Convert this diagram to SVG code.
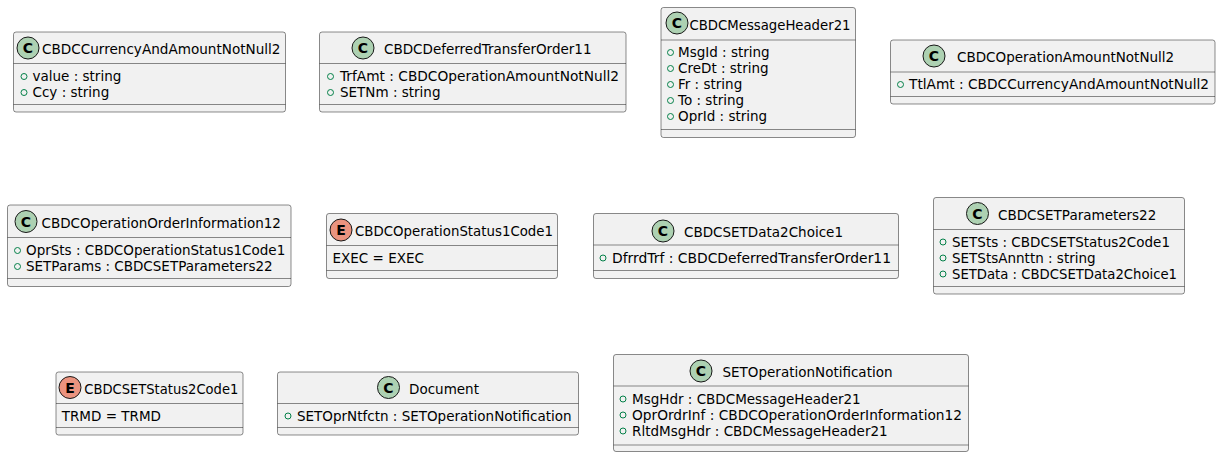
<svg xmlns="http://www.w3.org/2000/svg" width="1221" height="458" viewBox="0 0 1221 458">
<style>
.box{fill:#F1F1F1;stroke:#181818;stroke-width:0.5}
.sep{stroke:#181818;stroke-width:0.5}
.ci{fill:#ADD1B2;stroke:#181818;stroke-width:1}
.ce{fill:#EB937F;stroke:#181818;stroke-width:1}
.cl{font-family:"DejaVu Sans",sans-serif;font-size:14px;font-weight:bold;fill:#000;text-anchor:middle}
.t{font-family:"DejaVu Sans",sans-serif;font-size:13.5px;fill:#000}
.v{fill:none;stroke:#038048;stroke-width:1}
</style>
<rect width="1221" height="458" fill="#FFFFFF"/>
<g id="connectors"></g>

<g id="CBDCCurrencyAndAmountNotNull2">
<rect class="box" x="13.5" y="32" width="272" height="80" rx="2.5"/>
<line class="sep" x1="13.5" y1="63.5" x2="285.5" y2="63.5"/>
<line class="sep" x1="13.5" y1="104.5" x2="285.5" y2="104.5"/>
<circle class="ci" cx="28" cy="48" r="11"/>
<text class="cl" x="28" y="53">C</text>
<text class="t" x="42" y="54" textLength="238.5" lengthAdjust="spacingAndGlyphs">CBDCCurrencyAndAmountNotNull2</text>
<circle class="v" cx="24" cy="76.5" r="3"/>
<text class="t" x="32.5" y="81">value : string</text>
<circle class="v" cx="24" cy="92.5" r="3"/>
<text class="t" x="32.5" y="97">Ccy : string</text>
</g>

<g id="CBDCDeferredTransferOrder11">
<rect class="box" x="319.5" y="32" width="306.5" height="80" rx="2.5"/>
<line class="sep" x1="319.5" y1="63.5" x2="626" y2="63.5"/>
<line class="sep" x1="319.5" y1="104.5" x2="626" y2="104.5"/>
<circle class="ci" cx="363" cy="48" r="11"/>
<text class="cl" x="363" y="53">C</text>
<text class="t" x="384" y="54">CBDCDeferredTransferOrder11</text>
<circle class="v" cx="330.5" cy="76.5" r="3"/>
<text class="t" x="340" y="81" textLength="279" lengthAdjust="spacingAndGlyphs">TrfAmt : CBDCOperationAmountNotNull2</text>
<circle class="v" cx="330.5" cy="92.5" r="3"/>
<text class="t" x="340" y="97">SETNm : string</text>
</g>

<g id="CBDCMessageHeader21">
<rect class="box" x="661" y="7.5" width="194.5" height="130" rx="2.5"/>
<line class="sep" x1="661" y1="40" x2="855.5" y2="40"/>
<line class="sep" x1="661" y1="129.5" x2="855.5" y2="129.5"/>
<circle class="ci" cx="677" cy="23" r="11"/>
<text class="cl" x="677" y="28">C</text>
<text class="t" x="689.5" y="30" textLength="161" lengthAdjust="spacingAndGlyphs">CBDCMessageHeader21</text>
<circle class="v" cx="670.5" cy="52.5" r="3"/>
<text class="t" x="678" y="57">MsgId : string</text>
<circle class="v" cx="670.5" cy="68.5" r="3"/>
<text class="t" x="678" y="73">CreDt : string</text>
<circle class="v" cx="670.5" cy="84.5" r="3"/>
<text class="t" x="678" y="89">Fr : string</text>
<circle class="v" cx="670.5" cy="100.5" r="3"/>
<text class="t" x="678" y="105">To : string</text>
<circle class="v" cx="670.5" cy="116.5" r="3"/>
<text class="t" x="678" y="121">OprId : string</text>
</g>

<g id="CBDCOperationAmountNotNull2">
<rect class="box" x="890.5" y="40" width="324.5" height="64" rx="2.5"/>
<line class="sep" x1="890.5" y1="72" x2="1215" y2="72"/>
<line class="sep" x1="890.5" y1="96.5" x2="1215" y2="96.5"/>
<circle class="ci" cx="934" cy="56" r="11"/>
<text class="cl" x="934" y="61">C</text>
<text class="t" x="957" y="62">CBDCOperationAmountNotNull2</text>
<circle class="v" cx="900.5" cy="84.5" r="3"/>
<text class="t" x="909" y="89" textLength="300" lengthAdjust="spacingAndGlyphs">TtlAmt : CBDCCurrencyAndAmountNotNull2</text>
</g>

<g id="CBDCOperationOrderInformation12">
<rect class="box" x="7.5" y="205" width="283.5" height="81.5" rx="2.5"/>
<line class="sep" x1="7.5" y1="237.5" x2="291" y2="237.5"/>
<line class="sep" x1="7.5" y1="278.5" x2="291" y2="278.5"/>
<circle class="ci" cx="26" cy="221.5" r="11"/>
<text class="cl" x="26" y="226.5">C</text>
<text class="t" x="41.5" y="227.5">CBDCOperationOrderInformation12</text>
<circle class="v" cx="17.5" cy="250.5" r="3"/>
<text class="t" x="26" y="255">OprSts : CBDCOperationStatus1Code1</text>
<circle class="v" cx="17.5" cy="266.5" r="3"/>
<text class="t" x="26" y="271">SETParams : CBDCSETParameters22</text>
</g>

<g id="CBDCOperationStatus1Code1">
<rect class="box" x="326.5" y="213.5" width="231" height="65" rx="2.5"/>
<line class="sep" x1="326.5" y1="245.5" x2="557.5" y2="245.5"/>
<line class="sep" x1="326.5" y1="270.5" x2="557.5" y2="270.5"/>
<circle class="ce" cx="341" cy="230" r="11"/>
<text class="cl" x="341" y="235">E</text>
<text class="t" x="355" y="236" textLength="198" lengthAdjust="spacingAndGlyphs">CBDCOperationStatus1Code1</text>
<text class="t" x="332.5" y="262.5">EXEC = EXEC</text>
</g>

<g id="CBDCSETData2Choice1">
<rect class="box" x="593.5" y="213.5" width="305" height="65" rx="2.5"/>
<line class="sep" x1="593.5" y1="245" x2="898.5" y2="245"/>
<line class="sep" x1="593.5" y1="270.5" x2="898.5" y2="270.5"/>
<circle class="ci" cx="663" cy="231" r="11"/>
<text class="cl" x="663" y="236">C</text>
<text class="t" x="684" y="237">CBDCSETData2Choice1</text>
<circle class="v" cx="603" cy="258" r="3"/>
<text class="t" x="612" y="262.5" textLength="279" lengthAdjust="spacingAndGlyphs">DfrrdTrf : CBDCDeferredTransferOrder11</text>
</g>

<g id="CBDCSETParameters22">
<rect class="box" x="933.5" y="197.5" width="251" height="96.5" rx="2.5"/>
<line class="sep" x1="933.5" y1="229.5" x2="1184.5" y2="229.5"/>
<line class="sep" x1="933.5" y1="286.5" x2="1184.5" y2="286.5"/>
<circle class="ci" cx="977.5" cy="213.5" r="11"/>
<text class="cl" x="977.5" y="218.5">C</text>
<text class="t" x="998" y="219.5">CBDCSETParameters22</text>
<circle class="v" cx="943" cy="242" r="3"/>
<text class="t" x="952" y="246.5">SETSts : CBDCSETStatus2Code1</text>
<circle class="v" cx="943" cy="258" r="3"/>
<text class="t" x="952" y="262.5">SETStsAnnttn : string</text>
<circle class="v" cx="943" cy="274" r="3"/>
<text class="t" x="952" y="278.5" textLength="225" lengthAdjust="spacingAndGlyphs">SETData : CBDCSETData2Choice1</text>
</g>

<g id="CBDCSETStatus2Code1">
<rect class="box" x="56" y="372" width="187" height="63" rx="2.5"/>
<line class="sep" x1="56" y1="403.5" x2="243" y2="403.5"/>
<line class="sep" x1="56" y1="427.5" x2="243" y2="427.5"/>
<circle class="ce" cx="70" cy="387.5" r="11"/>
<text class="cl" x="70" y="392.5">E</text>
<text class="t" x="84.3" y="393.5" textLength="154" lengthAdjust="spacingAndGlyphs">CBDCSETStatus2Code1</text>
<text class="t" x="61.7" y="420.5">TRMD = TRMD</text>
</g>

<g id="Document">
<rect class="box" x="277.5" y="372" width="301" height="63" rx="2.5"/>
<line class="sep" x1="277.5" y1="403.5" x2="578.5" y2="403.5"/>
<line class="sep" x1="277.5" y1="427.5" x2="578.5" y2="427.5"/>
<circle class="ci" cx="388.5" cy="387.5" r="11"/>
<text class="cl" x="388.5" y="392.5">C</text>
<text class="t" x="409" y="393.5">Document</text>
<circle class="v" cx="288" cy="416" r="3"/>
<text class="t" x="297" y="420.5">SETOprNtfctn : SETOperationNotification</text>
</g>

<g id="SETOperationNotification">
<rect class="box" x="613.5" y="354.5" width="355" height="97" rx="2.5"/>
<line class="sep" x1="613.5" y1="386" x2="968.5" y2="386"/>
<line class="sep" x1="613.5" y1="445" x2="968.5" y2="445"/>
<circle class="ci" cx="701" cy="371" r="11"/>
<text class="cl" x="701" y="376">C</text>
<text class="t" x="722.5" y="377">SETOperationNotification</text>
<circle class="v" cx="623" cy="399" r="3"/>
<text class="t" x="632" y="403.5">MsgHdr : CBDCMessageHeader21</text>
<circle class="v" cx="623" cy="415" r="3"/>
<text class="t" x="632" y="419.5" textLength="330" lengthAdjust="spacingAndGlyphs">OprOrdrInf : CBDCOperationOrderInformation12</text>
<circle class="v" cx="623" cy="431" r="3"/>
<text class="t" x="632" y="435.5">RltdMsgHdr : CBDCMessageHeader21</text>
</g>
</svg>
